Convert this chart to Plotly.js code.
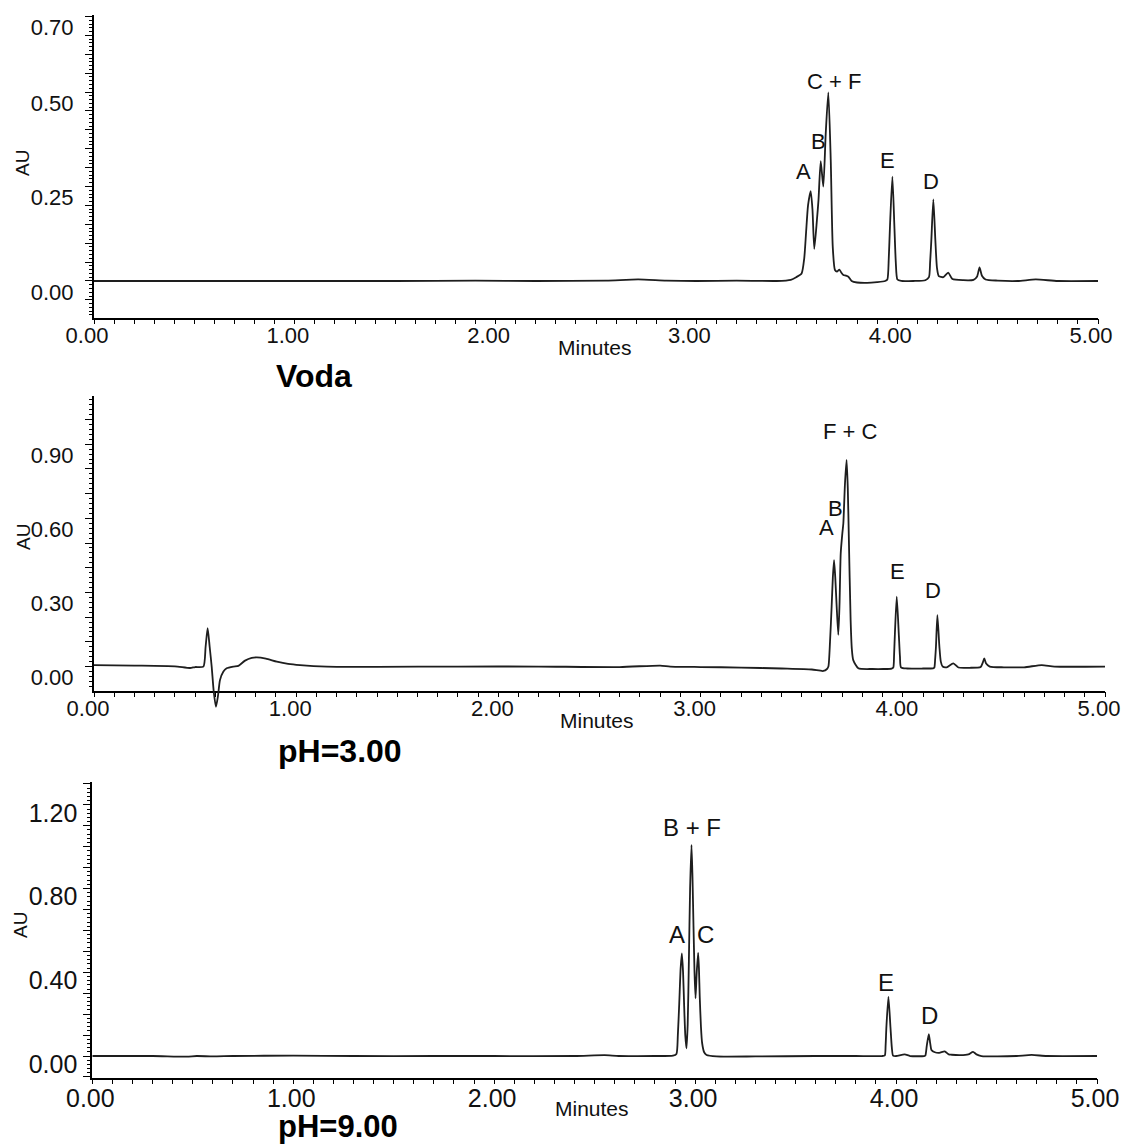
<!DOCTYPE html>
<html>
<head>
<meta charset="utf-8">
<script src="https://cdn.plot.ly/plotly-3.0.1.min.js"></script>
<style>
  html, body { margin: 0; padding: 0; background: #fff; }
  #chart { width: 1126px; height: 1144px; }
</style>
</head>
<body>
<div id="chart"></div>
<script>
// ---------------- DATA ----------------
// Panel 1 : Voda
const voda_time = [0.00, 0.50, 1.00, 1.50, 1.90, 2.20, 2.55, 2.71, 2.85, 3.00, 3.20, 3.40, 3.47, 3.497, 3.524, 3.537, 3.546, 3.556, 3.569, 3.578, 3.587, 3.600, 3.608, 3.619, 3.632, 3.644, 3.657, 3.669, 3.679, 3.690, 3.700, 3.712, 3.722, 3.732, 3.745, 3.757, 3.773, 3.80, 3.85, 3.90, 3.940, 3.951, 3.958, 3.964, 3.976, 3.986, 3.993, 4.001, 4.02, 4.08, 4.14, 4.158, 4.164, 4.170, 4.180, 4.190, 4.198, 4.207, 4.230, 4.254, 4.275, 4.33, 4.38, 4.398, 4.410, 4.422, 4.44, 4.50, 4.60, 4.69, 4.80, 5.00];
const voda_au   = [0.000, 0.000, 0.000, 0.000, 0.001, 0.000, 0.001, 0.004, 0.001, 0.000, 0.001, 0.000, 0.003, 0.010, 0.020, 0.060, 0.127, 0.200, 0.238, 0.190, 0.085, 0.160, 0.214, 0.317, 0.250, 0.390, 0.499, 0.320, 0.091, 0.029, 0.025, 0.030, 0.022, 0.016, 0.014, 0.011, 0.000, -0.004, -0.005, -0.003, 0.000, 0.004, 0.060, 0.144, 0.276, 0.144, 0.050, 0.004, 0.000, 0.000, 0.002, 0.010, 0.050, 0.108, 0.216, 0.108, 0.035, 0.013, 0.010, 0.022, 0.005, 0.002, 0.003, 0.012, 0.036, 0.014, 0.004, 0.001, 0.000, 0.004, 0.000, 0.000];

// Panel 2 : pH=3.00
const ph3_time = [0.00, 0.20, 0.40, 0.475, 0.50, 0.541, 0.552, 0.562, 0.572, 0.582, 0.592, 0.603, 0.613, 0.623, 0.640, 0.656, 0.689, 0.714, 0.747, 0.780, 0.805, 0.850, 0.904, 0.960, 1.019, 1.151, 1.40, 1.80, 2.20, 2.60, 2.80, 2.85, 3.00, 3.20, 3.40, 3.55, 3.607, 3.625, 3.632, 3.640, 3.648, 3.654, 3.660, 3.666, 3.673, 3.681, 3.687, 3.693, 3.701, 3.706, 3.714, 3.722, 3.728, 3.733, 3.742, 3.748, 3.755, 3.780, 3.85, 3.904, 3.945, 3.953, 3.957, 3.961, 3.970, 3.980, 3.986, 3.991, 4.02, 4.10, 4.150, 4.156, 4.160, 4.164, 4.171, 4.181, 4.188, 4.197, 4.217, 4.250, 4.275, 4.33, 4.385, 4.395, 4.403, 4.412, 4.43, 4.50, 4.60, 4.687, 4.75, 5.00];
const ph3_au   = [0.006, 0.004, 0.001, -0.006, -0.002, 0.000, 0.080, 0.155, 0.080, 0.000, -0.100, -0.163, -0.120, -0.055, -0.020, -0.007, 0.000, 0.003, 0.024, 0.035, 0.037, 0.032, 0.020, 0.011, 0.006, 0.000, -0.001, 0.000, 0.000, -0.002, 0.004, 0.000, -0.002, -0.004, -0.008, -0.012, -0.018, -0.010, 0.000, 0.100, 0.242, 0.360, 0.431, 0.360, 0.242, 0.128, 0.250, 0.458, 0.539, 0.580, 0.740, 0.836, 0.720, 0.526, 0.188, 0.070, 0.026, -0.007, -0.010, -0.010, -0.008, -0.004, 0.050, 0.134, 0.283, 0.134, 0.040, -0.003, -0.008, -0.008, -0.007, -0.004, 0.030, 0.080, 0.208, 0.080, 0.020, 0.000, -0.003, 0.013, -0.004, -0.005, -0.002, 0.015, 0.033, 0.012, 0.000, -0.003, -0.003, 0.006, 0.000, 0.000];

// Panel 3 : pH=9.00
const ph9_time = [0.00, 0.30, 0.47, 0.52, 0.60, 0.70, 1.00, 1.30, 1.70, 2.00, 2.40, 2.55, 2.62, 2.80, 2.89, 2.907, 2.914, 2.921, 2.928, 2.934, 2.940, 2.945, 2.951, 2.957, 2.963, 2.969, 2.975, 2.982, 2.987, 2.992, 2.997, 3.002, 3.008, 3.015, 3.019, 3.023, 3.029, 3.035, 3.045, 3.057, 3.106, 3.30, 3.60, 3.80, 3.930, 3.944, 3.948, 3.952, 3.962, 3.972, 3.979, 3.985, 4.00, 4.043, 4.07, 4.140, 4.146, 4.153, 4.163, 4.170, 4.176, 4.193, 4.215, 4.242, 4.262, 4.276, 4.32, 4.36, 4.383, 4.40, 4.425, 4.50, 4.60, 4.675, 4.75, 5.00];
const ph9_au   = [0.000, 0.000, -0.003, 0.000, -0.002, 0.000, 0.002, 0.000, 0.000, 0.000, 0.000, 0.004, 0.000, 0.000, 0.002, 0.010, 0.100, 0.252, 0.420, 0.490, 0.400, 0.252, 0.100, 0.037, 0.150, 0.458, 0.800, 1.008, 0.850, 0.617, 0.400, 0.276, 0.400, 0.493, 0.420, 0.283, 0.140, 0.061, 0.018, 0.005, -0.002, -0.002, 0.000, 0.000, 0.000, 0.003, 0.050, 0.140, 0.283, 0.140, 0.040, 0.002, 0.000, 0.008, 0.000, 0.000, 0.003, 0.050, 0.105, 0.060, 0.029, 0.018, 0.015, 0.022, 0.008, 0.006, 0.004, 0.008, 0.020, 0.008, 0.000, -0.002, 0.000, 0.005, 0.000, 0.000];

// Tick labels
const xTickVals   = [0, 1, 2, 3, 4, 5];
const xTickText   = ['0.00', '1.00', '2.00', '3.00', '4.00', '5.00'];
const voda_yVals  = [0, 0.25, 0.50, 0.70];
const voda_yText  = ['0.00', '0.25', '0.50', '0.70'];
const ph3_yVals   = [0, 0.30, 0.60, 0.90];
const ph3_yText   = ['0.00', '0.30', '0.60', '0.90'];
const ph9_yVals   = [0, 0.40, 0.80, 1.20];
const ph9_yText   = ['0.00', '0.40', '0.80', '1.20'];

// Peak labels
const voda_peaks = ['A', 'B', 'C + F', 'E', 'D'];
const ph3_peaks  = ['A', 'B', 'F + C', 'E', 'D'];
const ph9_peaks  = ['A', 'C', 'B + F', 'E', 'D'];

// Panel names
const panelNames = ['Voda', 'pH=3.00', 'pH=9.00'];

// ---------------- LAYOUT ----------------
const W = 1126, H = 1144;
const FONT = 'Liberation Sans, Arial, sans-serif';
const TXT = '#111111';
const px = v => v / W;
const py = v => 1 - v / H;

const panels = [
  { t: voda_time, a: voda_au, xd: [94, 1098], yd: [15, 318], yr: [-0.098, 0.704], ext: 0,
    major: 0.05, minor: 0.01, yVals: voda_yVals, yText: voda_yText,
    tickFont: 22, yShift: 11, yStand: 7, xShift: -7,
    peaks: voda_peaks, peakPos: [[3.532, 0.289], [3.607, 0.369], [3.684, 0.527], [3.952, 0.320], [4.170, 0.263]], peakFont: 22,
    minutes: [595, 347], au: [22, 163], name: [274, 376], nameFont: 32, minFont: 21 },
  { t: ph3_time, a: ph3_au, xd: [94, 1105], yd: [396, 691], yr: [-0.099, 1.095], ext: 25,
    major: 0.1, minor: 0.02, yVals: ph3_yVals, yText: ph3_yText,
    tickFont: 22, yShift: 11, yStand: 7, xShift: -6,
    peaks: ph3_peaks, peakPos: [[3.622, 0.562], [3.665, 0.641], [3.739, 0.951], [3.972, 0.383], [4.151, 0.308]], peakFont: 22,
    minutes: [597, 720], au: [23, 537], name: [276, 751], nameFont: 32, minFont: 21 },
  { t: ph9_time, a: ph9_au, xd: [92.3, 1097], yd: [782, 1078], yr: [-0.105, 1.309], ext: 0,
    major: 0.1, minor: 0.02, yVals: ph9_yVals, yText: ph9_yText,
    tickFont: 25, yShift: 8, yStand: 1, xShift: -2,
    peaks: ph9_peaks, peakPos: [[2.910, 0.582], [3.052, 0.582], [2.986, 1.093], [3.952, 0.353], [4.168, 0.192]], peakFont: 24,
    minutes: [592, 1108], au: [20, 925], name: [276, 1126], nameFont: 31, minFont: 21 }
];

const traces = [];
const layout = {
  width: W, height: H,
  margin: { l: 0, r: 0, t: 0, b: 0, pad: 0 },
  paper_bgcolor: '#ffffff', plot_bgcolor: 'rgba(0,0,0,0)',
  showlegend: false,
  font: { family: FONT, color: TXT },
  annotations: []
};

const sfx = n => (n === 1 ? '' : String(n));

panels.forEach((p, i) => {
  const n = i + 1;          // frame axes (visible)
  const m = i + 4;          // data axes (same scale, bottom may extend below the frame)
  const fx = 'x' + sfx(n), fy = 'y' + sfx(n);
  const dx = 'x' + m, dy = 'y' + m;

  const pxPerAU = (p.yd[1] - p.yd[0]) / (p.yr[1] - p.yr[0]);

  // empty trace so the frame subplot exists
  traces.push({ type: 'scatter', mode: 'lines', x: [], y: [], xaxis: fx, yaxis: fy, hoverinfo: 'skip' });
  // chromatogram
  traces.push({
    type: 'scatter', mode: 'lines', x: p.t, y: p.a, xaxis: dx, yaxis: dy,
    line: { color: '#1e1e1e', width: 1.8, shape: 'spline', smoothing: 0.6 },
    hoverinfo: 'skip'
  });

  // y ticks: long ticks at every major step, text only at labelled values
  const tv = [], tt = [];
  const kMin = Math.ceil(p.yr[0] / p.major - 1e-9), kMax = Math.floor(p.yr[1] / p.major + 1e-9);
  for (let k = kMin; k <= kMax; k++) {
    const v = +(k * p.major).toFixed(4);
    tv.push(v);
    const j = p.yVals.findIndex(q => Math.abs(q - v) < 1e-6);
    tt.push(j >= 0 ? p.yText[j] : '');
  }

  layout['xaxis' + sfx(n)] = {
    domain: [px(p.xd[0]), px(p.xd[1])], anchor: fy, range: [0, 5],
    showline: true, linecolor: '#000', linewidth: 2,
    showgrid: false, zeroline: false,
    tickmode: 'array', tickvals: xTickVals, ticktext: xTickText,
    ticks: '', ticklabelshift: p.xShift, ticklabelstandoff: -3,
    tickfont: { family: FONT, size: p.tickFont, color: TXT },
    fixedrange: true
  };
  layout['yaxis' + sfx(n)] = {
    domain: [py(p.yd[1]), py(p.yd[0])], anchor: fx, range: p.yr,
    showline: true, linecolor: '#000', linewidth: 2,
    showgrid: false, zeroline: false,
    tickmode: 'array', tickvals: tv, ticktext: tt,
    ticks: 'outside', ticklen: 7, tickwidth: 1, tickcolor: '#000',
    ticklabelshift: p.yShift, ticklabelstandoff: p.yStand,
    tickfont: { family: FONT, size: p.tickFont, color: TXT },
    minor: { tickmode: 'linear', tick0: 0, dtick: p.minor, ticks: 'outside', ticklen: 3, tickwidth: 1, tickcolor: '#000', showgrid: false },
    fixedrange: true
  };
  // data axes: x carries the 0.1-minute ticks, drawn at the frame's bottom line
  layout['xaxis' + m] = {
    domain: [px(p.xd[0]), px(p.xd[1])], anchor: 'free', position: py(p.yd[1]), range: [0, 5],
    showline: false, showgrid: false, zeroline: false, showticklabels: false,
    tickmode: 'linear', tick0: 0, dtick: 0.1,
    ticks: 'outside', ticklen: 5, tickwidth: 1, tickcolor: '#000',
    fixedrange: true
  };
  layout['yaxis' + m] = {
    domain: [py(p.yd[1] + p.ext), py(p.yd[0])], anchor: dx,
    range: [p.yr[0] - p.ext / pxPerAU, p.yr[1]],
    visible: false, showgrid: false, zeroline: false, fixedrange: true
  };

  // peak labels
  p.peaks.forEach((lab, j) => {
    layout.annotations.push({
      xref: fx, yref: fy, x: p.peakPos[j][0], y: p.peakPos[j][1],
      text: lab, showarrow: false, xanchor: 'center', yanchor: 'middle',
      font: { family: FONT, size: p.peakFont, color: TXT }
    });
  });
  // "Minutes"
  layout.annotations.push({
    xref: 'paper', yref: 'paper', x: px(p.minutes[0]), y: py(p.minutes[1]),
    text: 'Minutes', showarrow: false, xanchor: 'center', yanchor: 'middle',
    font: { family: FONT, size: p.minFont, color: TXT }
  });
  // "AU"
  layout.annotations.push({
    xref: 'paper', yref: 'paper', x: px(p.au[0]), y: py(p.au[1]),
    text: 'AU', showarrow: false, textangle: -90, xanchor: 'center', yanchor: 'middle',
    font: { family: FONT, size: 19, color: TXT }
  });
  // Panel name
  layout.annotations.push({
    xref: 'paper', yref: 'paper', x: px(p.name[0]), y: py(p.name[1]),
    text: '<b>' + panelNames[i] + '</b>', showarrow: false, xanchor: 'left', yanchor: 'middle',
    font: { family: FONT, size: p.nameFont, color: '#000' }
  });
});

Plotly.newPlot('chart', traces, layout, { staticPlot: true, displayModeBar: false });
</script>
</body>
</html>
